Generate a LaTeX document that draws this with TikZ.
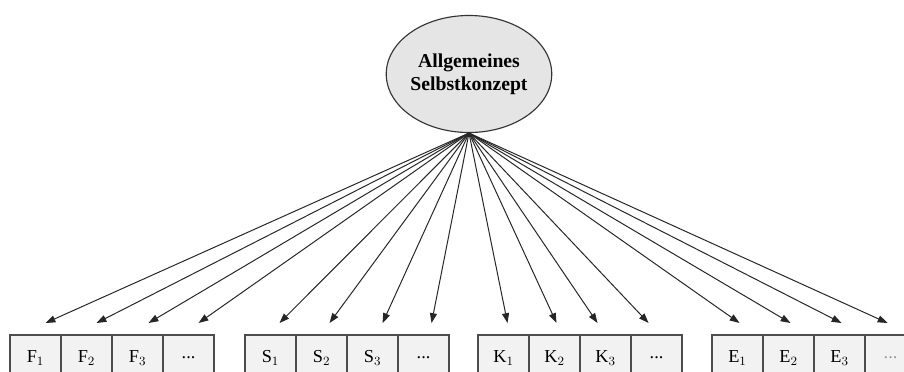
\documentclass[tikz,border=0pt]{standalone}
\usepackage{fontspec}
\setmainfont{Liberation Serif}
\usetikzlibrary{positioning,calc,arrows.meta,shapes.geometric}
\begin{document}
\begin{tikzpicture}[x=0.025cm, y=-0.025cm,
    every node/.style={font=\fontsize{13}{15}\selectfont},
    item/.style={rectangle, draw=black!70, fill=black!5, line width=0.8pt, outer sep=0pt,
                 minimum width=1.275cm, minimum height=1.15cm, inner sep=0pt},
    factor/.style={ellipse, draw=black!80, fill=black!10, line width=0.8pt,
                 minimum width=3.55cm, minimum height=2.925cm, inner sep=0pt, align=center,
                 font=\fontsize{14}{16.5}\selectfont\bfseries},
    arr/.style={-{Triangle[length=7pt,width=5pt]}, draw=black!85, line width=0.7pt}]
    \useasboundingbox (0,0) rectangle (904,371);
    \clip (0,0) rectangle (904,371);
    \fill[white] (0,0) rectangle (904,371);
    % latent factor
    \node[factor] (ell) at (469,74) {Allgemeines\\Selbstkonzept};
    \coordinate (apex) at (ell.south);
    % indicator boxes
    \node[item, anchor=west] (f1) at (10,358) {F$_1$};
    \node[item, right=0pt of f1] (f2) {F$_2$};
    \node[item, right=0pt of f2] (f3) {F$_3$};
    \node[item, right=0pt of f3] (f4) {...};
    \node[item, anchor=west] (s1) at (245,358) {S$_1$};
    \node[item, right=0pt of s1] (s2) {S$_2$};
    \node[item, right=0pt of s2] (s3) {S$_3$};
    \node[item, right=0pt of s3] (s4) {...};
    \node[item, anchor=west] (k1) at (478,358) {K$_1$};
    \node[item, right=0pt of k1] (k2) {K$_2$};
    \node[item, right=0pt of k2] (k3) {K$_3$};
    \node[item, right=0pt of k3] (k4) {...};
    \node[item, anchor=west] (e1) at (712,358) {E$_1$};
    \node[item, right=0pt of e1] (e2) {E$_2$};
    \node[item, right=0pt of e2] (e3) {E$_3$};
    \node[item, right=0pt of e3, text=black!40] (e4) {...};
    % arrows
    \foreach \b/\dx in {f1/10,f2/10,f3/11,f4/10,s1/9,s2/8,s3/10,s4/8,
                        k1/4,k2/2,k3/-8,k4/-8,e1/2,e2/2,e3/2,e4/-3}
        \draw[arr] (apex) -- ($(\b.north)+(\dx,-12)$);
\end{tikzpicture}
\end{document}
